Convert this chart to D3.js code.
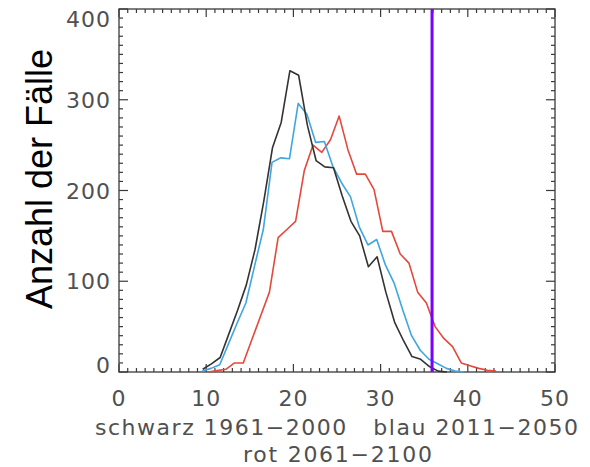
<!DOCTYPE html>
<html>
<head>
<meta charset="utf-8">
<script src="https://cdn.jsdelivr.net/npm/d3@7"></script>
<style>
html,body{margin:0;padding:0;background:#fff;}
svg{display:block;}
text{white-space:pre;}
</style>
</head>
<body>
<svg id="chart" width="590" height="467"></svg>
<script>
// ---- data ----
const blackX = [9.6,10.6,11.6,12.6,13.6,14.6,15.6,16.6,17.6,18.6,19.6,20.6,21.6,22.6,23.6,24.6,25.6,26.6,27.6,28.6,29.6,30.6,31.6,32.6,33.6,34.6,35.6,36.6,37.6];
const blackY = [3,9,16,42,68,96,135,188,247,275,332,327,272,233,226,225,194,166,150,116,127,88,55,35,17,14,6,1,0];
const blueX = [9.55,10.55,11.55,12.55,13.55,14.55,15.55,16.55,17.55,18.55,19.55,20.55,21.55,22.55,23.55,24.55,25.55,26.55,27.55,28.55,29.55,30.55,31.55,32.55,33.55,34.55,35.55,36.55,37.55,38.55,39.55];
const blueY = [1,4,8,31,54,76,117,157,231,236,235,296,284,253,254,226,208,193,160,140,146,118,98,68,40,24,14,9,4,1,0];
const redX = [10.25,11.25,12.25,13.25,14.25,15.25,16.25,17.25,18.25,19.25,20.25,21.25,22.25,23.25,24.25,25.25,26.25,27.25,28.25,29.25,30.25,31.25,32.25,33.25,34.25,35.25,36.25,37.25,38.25,39.25,40.25,41.25,42.25,43.25];
const redY = [0,1.5,3,10,10,36,62,88,148,157,166,222,250,242,256,282,245,218,218,201,155,155,130,120,88,76,50,37,28,10,7,4,2,1];
const thresholdX = 35.9;
const xTicks = [0,10,20,30,40,50];
const yTicks = [0,100,200,300,400];
const yLabel = "Anzahl der Fälle";
const xTitle1 = "schwarz 1961\u22122000   blau 2011\u22122050";
const xTitle2 = "rot 2061\u22122100";

// ---- layout ----
const svg = d3.select("#chart");
svg.append("rect").attr("width",590).attr("height",467).attr("fill","#fff");
const L = 119, R = 555, T = 9, B = 372;
const x = d3.scaleLinear().domain([0,50]).range([L,R]);
const y = d3.scaleLinear().domain([0,400]).range([B,T]);
const axisColor = "#3a3a3a";
const labelFont = "'DejaVu Sans', sans-serif";
const labelColor = "#505050";

// frame
svg.append("rect").attr("x",L).attr("y",T).attr("width",R-L).attr("height",B-T)
  .attr("fill","none").attr("stroke",axisColor).attr("stroke-width",1.3);

// ticks (IDL style, inward, all four sides)
const xMinor = d3.range(0,51,1);
const yMinor = d3.range(0,401,10);
const g = svg.append("g").attr("stroke",axisColor).attr("stroke-width",1.2);
xMinor.forEach(v=>{
  const len = v%10===0 ? 8 : 4;
  g.append("line").attr("x1",x(v)).attr("x2",x(v)).attr("y1",B).attr("y2",B-len);
  g.append("line").attr("x1",x(v)).attr("x2",x(v)).attr("y1",T).attr("y2",T+len);
});
yMinor.forEach(v=>{
  const len = v%100===0 ? 9 : 4;
  g.append("line").attr("y1",y(v)).attr("y2",y(v)).attr("x1",L).attr("x2",L+len);
  g.append("line").attr("y1",y(v)).attr("y2",y(v)).attr("x1",R).attr("x2",R-len);
});

// tick labels
svg.append("g").selectAll("text").data(xTicks).join("text")
  .attr("x",d=>x(d)).attr("y",406).attr("text-anchor","middle")
  .attr("font-family",labelFont).attr("font-size",22).attr("letter-spacing",1).attr("fill",labelColor)
  .text(d=>d);
svg.append("g").selectAll("text").data(yTicks).join("text")
  .attr("x",111).attr("y",d=>{
    if(d===400) return y(d)+18;
    if(d===0) return y(d)+1;
    return y(d)+8;
  })
  .attr("text-anchor","end")
  .attr("font-family",labelFont).attr("font-size",22).attr("letter-spacing",1).attr("fill",labelColor)
  .text(d=>d);

// x titles
svg.append("text").attr("x",95).attr("y",435)
  .attr("textLength",483).attr("lengthAdjust","spacing")
  .attr("font-family",labelFont).attr("font-size",22).attr("fill",labelColor)
  .text(xTitle1);
svg.append("text").attr("x",243).attr("y",462)
  .attr("textLength",189).attr("lengthAdjust","spacing")
  .attr("font-family",labelFont).attr("font-size",22).attr("fill",labelColor)
  .text(xTitle2);

// y label
svg.append("text").attr("transform","translate(52,179) rotate(-90)")
  .attr("text-anchor","middle")
  .attr("font-family","'Liberation Sans', Arial, sans-serif").attr("font-size",36)
  .attr("fill","#000").text(yLabel);

// lines
const line = d3.line().x(d=>x(d[0])).y(d=>y(d[1]));
const series = [
  {xs:redX, ys:redY, color:"#e4483b"},
  {xs:blueX, ys:blueY, color:"#3fa6e0"},
  {xs:blackX, ys:blackY, color:"#333333"}
];
series.forEach(s=>{
  svg.append("path").datum(d3.zip(s.xs,s.ys)).attr("d",line)
    .attr("fill","none").attr("stroke",s.color).attr("stroke-width",1.6)
    .attr("stroke-linejoin","round");
});

// threshold line
svg.append("line").attr("x1",x(thresholdX)).attr("x2",x(thresholdX))
  .attr("y1",T).attr("y2",B).attr("stroke","#7a00ff").attr("stroke-width",3);
</script>
</body>
</html>
